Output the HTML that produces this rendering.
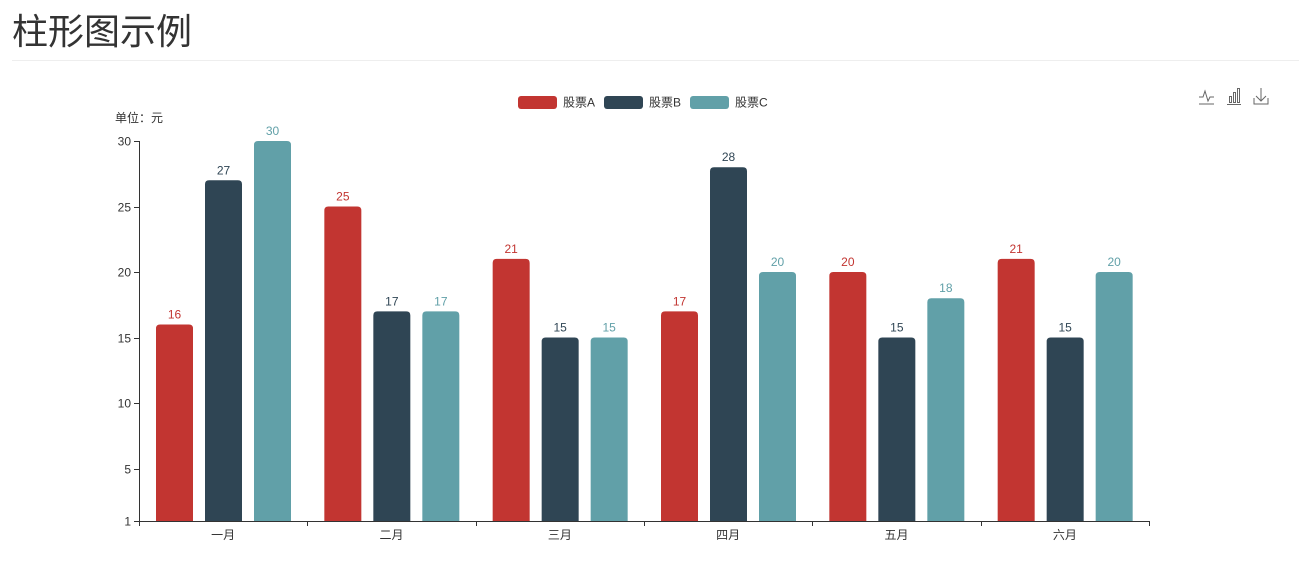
<!DOCTYPE html>
<html><head><meta charset="utf-8"><style>
body{margin:0;background:#fff;width:1299px;height:573px;overflow:hidden;font-family:"Liberation Sans","Noto Sans CJK SC",sans-serif;}
#title{position:absolute;left:12px;top:9px;font-size:36px;color:#333;font-weight:normal;margin:0;line-height:46px;}
#rule{position:absolute;left:12px;top:60px;width:1287px;height:1px;background:#eee;}
svg{position:absolute;left:0;top:0;}
text{font-family:"Liberation Sans","Noto Sans CJK SC",sans-serif;}
</style></head><body>
<h1 id="title">柱形图示例</h1>
<div id="rule"></div>
<svg id="chart" width="1299" height="573">
<g>
 <g><rect x="518" y="96" width="39" height="13" rx="3" fill="#c23531"/><text x="563" y="106.5" font-size="12" fill="#333">股票A</text></g>
 <g><rect x="604" y="96" width="39" height="13" rx="3" fill="#2f4554"/><text x="649" y="106.5" font-size="12" fill="#333">股票B</text></g>
 <g><rect x="690" y="96" width="39" height="13" rx="3" fill="#61a0a8"/><text x="735" y="106.5" font-size="12" fill="#333">股票C</text></g>
</g>
<g fill="none" stroke="#666" stroke-width="1">
 <g><path fill="none" d="M1199 97 h4 l2 -6 l3 10 l2 -4 h4 M1199 104 h15"/></g>
 <g><path fill="none" d="M1229.5 96.5 v6 h2 v-6z M1233.5 92.5 v10 h2 v-10z M1237.5 88.5 v14 h2 v-14z M1227 104.5 h14"/></g>
 <g><path fill="none" d="M1261 88 v13 M1256 96 l5 5 l5 -5 M1254 98 v6 h14 v-6"/></g>
</g>
<text x="115" y="122" font-size="12" fill="#333">单位：元</text>
<g id="axes"></g>
<g id="bars"></g>
</svg>
<script>
const categories=['一月','二月','三月','四月','五月','六月'];
const seriesA=[16,25,21,17,20,21];
const seriesB=[27,17,15,28,15,15];
const seriesC=[30,17,15,20,18,20];
const yTicks=[1,5,10,15,20,25,30];
const seriesNames=['股票A','股票B','股票C'];
const colors=['#c23531','#2f4554','#61a0a8'];
const NS='http://www.w3.org/2000/svg';
const x0=139,x1=1149,yTop=141,yBot=521,yMin=1,yMax=30;
const y=v=>yBot-(v-yMin)/(yMax-yMin)*(yBot-yTop);
const band=(x1-x0)/categories.length;
function mk(tag,attrs,parent){const e=document.createElementNS(NS,tag);for(const k in attrs)e.setAttribute(k,attrs[k]);parent.appendChild(e);return e;}
const axes=document.getElementById('axes'),bars=document.getElementById('bars');
let l=mk('line',{x1:x0+.5,y1:yTop,x2:x0+.5,y2:yBot,stroke:'#333'},axes);


l=mk('line',{x1:x0,y1:yBot+.5,x2:x1,y2:yBot+.5,stroke:'#333'},axes);


yTicks.forEach(t=>{
 const yy=Math.round(y(t))+.5;
 const tk=mk('line',{x1:x0-5,y1:yy,x2:x0,y2:yy,stroke:'#333'},axes);
 
 
 const tx=mk('text',{x:x0-8,y:yy+4,'font-size':12,fill:'#333','text-anchor':'end'},axes);
 tx.textContent=t;
 
 
});
for(let i=0;i<=categories.length;i++){
 const xx=Math.round(x0+i*band)+.5;
 const tk=mk('line',{x1:xx,y1:yBot,x2:xx,y2:yBot+5,stroke:'#333'},axes);
 
 
}
categories.forEach((c,i)=>{
 const tx=mk('text',{x:x0+(i+.5)*band,y:yBot+18,'font-size':12,fill:'#333','text-anchor':'middle'},axes);
 tx.textContent=c;
 
 
});
const all=[seriesA,seriesB,seriesC];
const bw=37,offs=[17,66,115];
all.forEach((s,si)=>{
 s.forEach((v,i)=>{
  const bx=x0+i*band+offs[si],by=y(v);
  const p=mk('path',{d:`M${bx} ${yBot} V${by+4} Q${bx} ${by} ${bx+4} ${by} H${bx+bw-4} Q${bx+bw} ${by} ${bx+bw} ${by+4} V${yBot}Z`,fill:colors[si]},bars);
  
  
  const t=mk('text',{x:bx+bw/2,y:by-6,'font-size':12,fill:colors[si],'text-anchor':'middle'},bars);
  t.textContent=v;
  
  
 });
});
</script>
</body></html>
